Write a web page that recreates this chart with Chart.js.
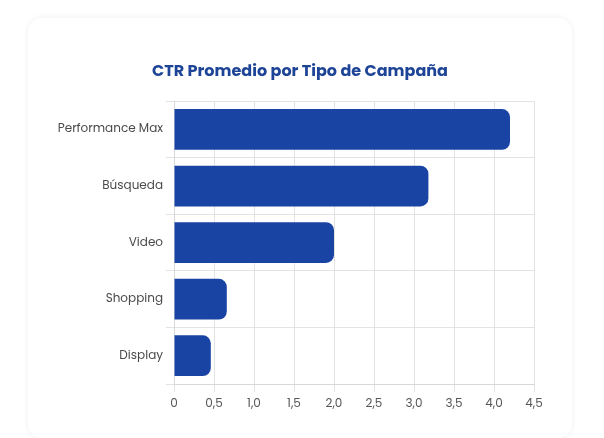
<!DOCTYPE html>
<html>
<head>
<meta charset="utf-8">
<script src="https://cdn.jsdelivr.net/npm/chart.js@4"></script>
<style>
html,body{margin:0;padding:0;background:#ffffff;width:604px;height:438px;overflow:hidden;}
#card{position:absolute;left:28px;top:18px;width:544px;height:420px;background:#fff;border-radius:14px;box-shadow:0 0 6px rgba(0,0,0,0.07);}
#wrap{position:absolute;left:0;top:0;width:604px;height:438px;}
</style>
</head>
<body>
<div id="card"></div>
<div id="wrap"><canvas id="c"></canvas></div>
<script>
const categories = ["Performance Max", "Búsqueda", "Video", "Shopping", "Display"];
const ctrValues = [4.2, 3.18, 2.0, 0.66, 0.46];
const titleText = "CTR Promedio por Tipo de Campaña";
const xMax = 4.5;
const xStep = 0.5;

const FONT = "Poppins, Inter, 'Open Sans', sans-serif";

new Chart(document.getElementById('c'), {
  type: 'bar',
  data: {
    labels: categories,
    datasets: [{
      data: ctrValues,
      backgroundColor: '#1a44a4',
      borderRadius: 8,
      borderSkipped: 'start'
    }]
  },
  options: {
    indexAxis: 'y',
    responsive: true,
    maintainAspectRatio: false,
    animation: false,
    layout: { padding: { left: 40, right: 44, top: 62, bottom: 9 } },
    plugins: {
      legend: { display: false },
      tooltip: { enabled: false },
      title: {
        display: true,
        text: titleText,
        color: '#1d4496',
        font: { family: FONT, size: 16, weight: 'bold' },
        padding: { top: 0, bottom: 20 }
      }
    },
    scales: {
      x: {
        min: 0,
        max: xMax,
        ticks: {
          stepSize: xStep,
          color: '#555',
          font: { family: FONT, size: 12 },
          padding: 5,
          callback: v => v === 0 ? '0' : Number(v).toFixed(1).replace('.', ',')
        },
        grid: { color: '#e3e3e3', tickLength: 8 },
        border: { color: '#d8d8d8' },
        afterFit: s => { s.height = 45; }
      },
      y: {
        ticks: {
          color: '#4a4a4a',
          font: { family: FONT, size: 12 },
          padding: 3
        },
        grid: { color: '#e3e3e3', offset: true, tickLength: 8 },
        border: { color: '#d8d8d8' },
        afterFit: s => { s.width = 134; }
      },
      ySpacer: {
        type: 'category',
        position: 'right',
        ticks: { display: false },
        grid: { display: false },
        border: { display: false },
        afterFit: s => { s.width = 26; }
      }
    }
  }
});
</script>
</body>
</html>
